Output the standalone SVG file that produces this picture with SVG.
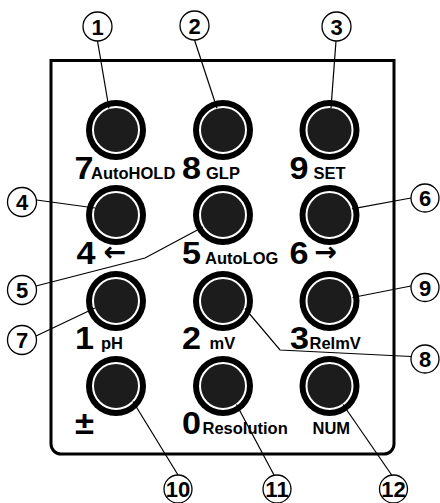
<svg xmlns="http://www.w3.org/2000/svg" xmlns:xlink="http://www.w3.org/1999/xlink" width="440" height="503" viewBox="0 0 440 503">
<style>
.panel{fill:#fff;stroke:#000;stroke-width:3}
.ring{fill:#000}
.face{fill:#1c1c1c;stroke:#fff;stroke-width:2}
.big{font-family:"Liberation Sans",Arial,sans-serif;font-weight:bold;font-size:31px;fill:#000}
.sm{font-family:"Liberation Sans",Arial,sans-serif;font-weight:bold;font-size:16.5px;fill:#000}
.arw{font-family:"DejaVu Sans",sans-serif;font-weight:bold;font-size:27px;fill:#000}
.co{fill:#fff;stroke:#000;stroke-width:1.3}
.cn{font-family:"Liberation Sans",Arial,sans-serif;font-weight:bold;font-size:22px;fill:#000;text-anchor:middle}
.ln{fill:none;stroke:#000;stroke-width:1.2}
</style>
<defs>
<g id="btn"><circle class="ring" r="30"/><circle class="face" r="23"/></g>
</defs>
<rect width="440" height="503" fill="#fff"/>
<path id="panel" class="panel" d="M51,60.5 H394 V444 A10,10 0 0 1 384,454 H61 A10,10 0 0 1 51,444 Z"/>
<g id="key7"><use xlink:href="#btn" x="116" y="130"/><text class="big" x="74.5" y="178.5" textLength="19" lengthAdjust="spacingAndGlyphs">7</text><text class="sm" x="91" y="178.5">AutoHOLD</text></g>
<g id="key8"><use xlink:href="#btn" x="223" y="130"/><text class="big" x="182" y="178.5" textLength="19" lengthAdjust="spacingAndGlyphs">8</text><text class="sm" x="206" y="178.5">GLP</text></g>
<g id="key9"><use xlink:href="#btn" x="329.5" y="130"/><text class="big" x="289.5" y="178.5" textLength="19" lengthAdjust="spacingAndGlyphs">9</text><text class="sm" x="313.5" y="178.5">SET</text></g>
<g id="key4"><use xlink:href="#btn" x="116" y="215"/><text class="big" x="76.5" y="263.5" textLength="19" lengthAdjust="spacingAndGlyphs">4</text><text class="arw" x="103.5" y="261">←</text></g>
<g id="key5"><use xlink:href="#btn" x="223" y="215"/><text class="big" x="182" y="263.5" textLength="19" lengthAdjust="spacingAndGlyphs">5</text><text class="sm" x="205" y="263.5">AutoLOG</text></g>
<g id="key6"><use xlink:href="#btn" x="329.5" y="215"/><text class="big" x="289.5" y="263.5" textLength="19" lengthAdjust="spacingAndGlyphs">6</text><text class="arw" x="314.5" y="261">→</text></g>
<g id="key1"><use xlink:href="#btn" x="116" y="301"/><text class="big" x="75" y="349" textLength="19" lengthAdjust="spacingAndGlyphs">1</text><text class="sm" x="101" y="349">pH</text></g>
<g id="key2"><use xlink:href="#btn" x="223" y="301"/><text class="big" x="182" y="349" textLength="19" lengthAdjust="spacingAndGlyphs">2</text><text class="sm" x="209.5" y="349">mV</text></g>
<g id="key3"><use xlink:href="#btn" x="329.5" y="301"/><text class="big" x="290" y="349" textLength="19" lengthAdjust="spacingAndGlyphs">3</text><text class="sm" x="309.5" y="349">RelmV</text></g>
<g id="keypm"><use xlink:href="#btn" x="116" y="386"/><text class="big" x="75" y="433.5" textLength="19" lengthAdjust="spacingAndGlyphs">±</text></g>
<g id="key0"><use xlink:href="#btn" x="223" y="386"/><text class="big" x="182" y="433.5" textLength="19" lengthAdjust="spacingAndGlyphs">0</text><text class="sm" x="202.5" y="433.5">Resolution</text></g>
<g id="keynum"><use xlink:href="#btn" x="329.5" y="386"/><text class="sm" x="312.5" y="433.5">NUM</text></g>
<g id="connectors">
<path class="ln" d="M97.5,41 L109,108.5"/>
<path class="ln" d="M194.5,40 L217,108.3"/>
<path class="ln" d="M336,41 L331,108"/>
<path class="ln" d="M36.5,200 L95,208"/>
<path class="ln" d="M36,286 L145,258 L203,227"/>
<path class="ln" d="M411,198 L352,208.8"/>
<path class="ln" d="M36,336 L95,308"/>
<path class="ln" d="M411,356.5 L280,350 L245,308.5"/>
<path class="ln" d="M411,286 L352.5,297.5"/>
<path class="ln" d="M178,475 L133,401.5"/>
<path class="ln" d="M274,475 L236.5,404.5"/>
<path class="ln" d="M392,475.5 L343,404.5"/>
</g>
<g id="c1"><circle class="co" cx="97.5" cy="26.5" r="14.5"/><text class="cn" x="97.5" y="34.5">1</text></g>
<g id="c2"><circle class="co" cx="194.5" cy="25.5" r="14.5"/><text class="cn" x="194.5" y="33.5">2</text></g>
<g id="c3"><circle class="co" cx="336.5" cy="26.5" r="14.5"/><text class="cn" x="336.5" y="34.5">3</text></g>
<g id="c4"><circle class="co" cx="22" cy="202" r="14.5"/><text class="cn" x="22" y="210">4</text></g>
<g id="c5"><circle class="co" cx="22" cy="290" r="14.5"/><text class="cn" x="22" y="298">5</text></g>
<g id="c6"><circle class="co" cx="425" cy="198" r="14"/><text class="cn" x="425" y="206">6</text></g>
<g id="c7"><circle class="co" cx="22" cy="340" r="14.5"/><text class="cn" x="22" y="348">7</text></g>
<g id="c8"><circle class="co" cx="425" cy="359" r="14"/><text class="cn" x="425" y="367">8</text></g>
<g id="c9"><circle class="co" cx="425" cy="287.5" r="14"/><text class="cn" x="425" y="295.5">9</text></g>
<g id="c10"><circle class="co" cx="178" cy="489" r="14"/><text class="cn" x="178" y="497">10</text></g>
<g id="c11"><circle class="co" cx="277" cy="489" r="14"/><text class="cn" x="277" y="497">11</text></g>
<g id="c12"><circle class="co" cx="393.5" cy="489" r="14"/><text class="cn" x="393.5" y="497">12</text></g>
</svg>
